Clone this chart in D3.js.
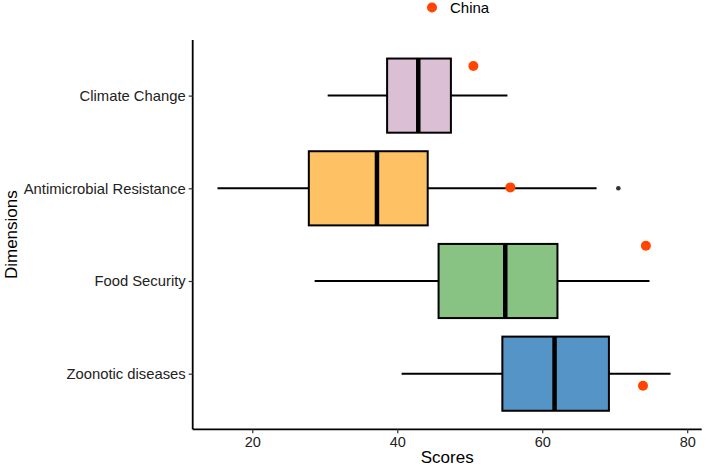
<!DOCTYPE html>
<html><head><meta charset="utf-8">
<script src="https://cdn.jsdelivr.net/npm/d3@7"></script>
<style>body{margin:0;background:#fff}svg{display:block}text{font-family:"Liberation Sans",Arial,sans-serif}</style>
</head><body><svg id="c" width="711" height="469"></svg>
<script>
const categories = ["Climate Change","Antimicrobial Resistance","Food Security","Zoonotic diseases"];
const whiskerLow  = [30.4, 15.2, 28.6, 40.6];
const q1          = [38.6, 27.8, 45.7, 54.5];
const median      = [42.9, 37.2, 54.9, 61.7];
const q3          = [47.4, 44.2, 62.1, 69.2];
const whiskerHigh = [55.2, 67.5, 74.8, 77.7];
const outliers    = [[], [70.5], [], []];
const chinaScore  = [50.5, 55.6, 74.3, 73.9];
const chinaJitter = [-0.32, -0.01, -0.38, 0.13];
const fills = ["#DBBFD4","#FEC264","#88C383","#5494C6"];
const xTicks = [20,40,60,80];

const svg = d3.select("#c");
const L=192.7, R=701.7, T=40, B=429.3;
const x = d3.scaleLinear().domain([11.78, 82.0]).range([L,R]);
const step=(B-T)/4.2;
const yScale = d3.scalePoint().domain(categories).range([T+0.6*step, T+3.6*step]);

const font = '"Liberation Sans",Arial,sans-serif';
const xAxis = d3.axisBottom(x).tickValues(xTicks).tickSize(4).tickPadding(3);
const gx = svg.append("g").attr("transform",`translate(0,${B})`).call(xAxis).attr("font-family",font).attr("font-size",14.5);
gx.select(".domain").attr("stroke","#000").attr("stroke-width",1.8).attr("d",`M${L},0H${R}`);
gx.selectAll(".tick line").attr("stroke","#333").attr("stroke-width",1.2);
gx.selectAll(".tick text").attr("fill","#222");

const yAxis = d3.axisLeft(yScale).tickSize(4).tickPadding(3);
const gy = svg.append("g").attr("transform",`translate(${L},0)`).call(yAxis).attr("font-family",font).attr("font-size",14.8);
gy.select(".domain").attr("stroke","#000").attr("stroke-width",1.8).attr("d",`M0,${T}V${B}`);
gy.selectAll(".tick line").attr("stroke","#333").attr("stroke-width",1.2);
gy.selectAll(".tick text").attr("fill","#222");

svg.append("text").attr("x",(L+R)/2).attr("y",463).attr("text-anchor","middle").attr("font-size",17).attr("fill","#000").text("Scores");
svg.append("text").attr("transform",`translate(17,${(T+B)/2}) rotate(-90)`).attr("text-anchor","middle").attr("font-size",17).attr("fill","#000").text("Dimensions");

const bh = step*0.8;
categories.forEach((c,i)=>{
  const cy = yScale(c);
  const g = svg.append("g");
  g.append("line").attr("x1",x(whiskerLow[i])).attr("x2",x(q1[i])).attr("y1",cy).attr("y2",cy).attr("stroke","#000").attr("stroke-width",2);
  g.append("line").attr("x1",x(q3[i])).attr("x2",x(whiskerHigh[i])).attr("y1",cy).attr("y2",cy).attr("stroke","#000").attr("stroke-width",2);
  g.append("rect").attr("x",x(q1[i])).attr("y",cy-bh/2).attr("width",x(q3[i])-x(q1[i])).attr("height",bh)
    .attr("fill",fills[i]).attr("stroke","#000").attr("stroke-width",2);
  g.append("line").attr("x1",x(median[i])).attr("x2",x(median[i])).attr("y1",cy-bh/2).attr("y2",cy+bh/2).attr("stroke","#000").attr("stroke-width",4.5);
  outliers[i].forEach(o=>{
    g.append("circle").attr("cx",x(o)).attr("cy",cy).attr("r",2.3).attr("fill","#333");
  });
});
categories.forEach((c,i)=>{
  svg.append("circle").attr("cx",x(chinaScore[i])).attr("cy",yScale(c)+chinaJitter[i]*step).attr("r",5).attr("fill","#FF4500");
});

svg.append("circle").attr("cx",432).attr("cy",7.5).attr("r",5).attr("fill","#FF4500");
svg.append("text").attr("x",450).attr("y",13).attr("font-size",15).attr("fill","#000").text("China");
</script></body></html>
